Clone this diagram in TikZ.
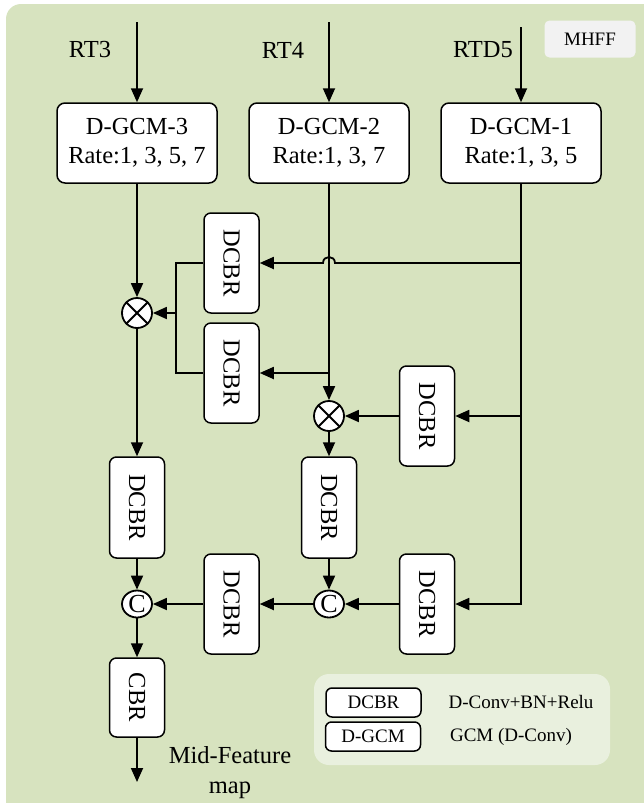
\documentclass[tikz,border=0pt]{standalone}
\usepackage{fontspec}
\setmainfont{Liberation Serif}
\usepackage{graphicx}
\usetikzlibrary{arrows.meta,calc,shapes.geometric}
\definecolor{bggreen}{RGB}{215,227,191}
\definecolor{lggreen}{RGB}{233,240,222}
\definecolor{tagrey}{RGB}{242,242,242}
\tikzset{
  arr/.style={line width=1.8pt,-{Triangle[length=14pt,width=12pt]}},
  ln/.style={line width=1.8pt},
  gcmbox/.style={draw,line width=1.5pt,fill=white,rounded corners=8pt,minimum width=160pt,minimum height=80pt,align=center,font=\fontsize{24.5}{29}\selectfont,inner sep=0pt},
  dbox/.style={draw,line width=1.5pt,fill=white,rounded corners=7pt,minimum width=55pt,inner sep=0pt,font=\fontsize{24.5}{29}\selectfont},
  opnode/.style={draw,line width=1.8pt,fill=white,circle,minimum size=30pt,inner sep=0pt},
  catnode/.style={draw,line width=1.8pt,fill=white,ellipse,minimum width=30pt,minimum height=27pt,inner sep=0pt,font=\fontsize{26}{29}\selectfont},
  lbl/.style={font=\fontsize{24.5}{30}\selectfont,align=center,inner sep=0pt},
  lgbox/.style={draw,line width=1.5pt,fill=white,rounded corners=6pt,minimum width=95pt,minimum height=29pt,inner sep=0pt,font=\fontsize{19}{23}\selectfont},
  lgtext/.style={font=\fontsize{19}{23}\selectfont,inner sep=0pt}
}
\begin{document}
\begin{tikzpicture}[x=1pt,y=-1pt]
\useasboundingbox (0,0) rectangle (644,803);
\begin{scope}
\clip (0,0) rectangle (644,803);
\fill[bggreen,rounded corners=15pt] (6,4) rectangle (670,840);
\end{scope}
% legend background
\fill[lggreen,rounded corners=15pt] (314,674) rectangle (610,765);
% MHFF tag
\node[fill=tagrey,rounded corners=5pt,minimum width=91pt,minimum height=37pt,inner sep=0pt,font=\fontsize{19}{23}\selectfont] (tag) at (590,39) {MHFF};

% D-GCM boxes
\node[gcmbox] (g3) at (137,143) {D-GCM-3\\Rate:1, 3, 5, 7};
\node[gcmbox] (g2) at (329,143) {D-GCM-2\\Rate:1, 3, 7};
\node[gcmbox] (g1) at (521,143) {D-GCM-1\\Rate:1, 3, 5};

% inputs
\coordinate (in3) at (137,22);
\coordinate (in4) at (329,22);
\coordinate (in5) at (521,27);
\node[lbl] (t3) at (90,50) {RT3};
\node[lbl] (t4) at (283,50) {RT4};
\node[lbl] (t5) at (483,50) {RTD5};
\draw[arr] (in3) -- (g3.north);
\draw[arr] (in4) -- (g2.north);
\draw[arr] (in5) -- (g1.north);

% DCBR boxes
\node[dbox,minimum height=100pt] (dA) at (231.5,263) {\rotatebox{-90}{DCBR}};
\node[dbox,minimum height=100pt] (dB) at (231.5,373) {\rotatebox{-90}{DCBR}};
\node[dbox,minimum height=100pt] (dC) at (427,416) {\rotatebox{-90}{DCBR}};
\node[dbox,minimum height=101pt] (dD) at (137,507.5) {\rotatebox{-90}{DCBR}};
\node[dbox,minimum height=101pt] (dE) at (329,507.5) {\rotatebox{-90}{DCBR}};
\node[dbox,minimum height=100pt] (dF) at (231.5,604) {\rotatebox{-90}{DCBR}};
\node[dbox,minimum height=100pt] (dG) at (427,604) {\rotatebox{-90}{DCBR}};
\node[dbox,minimum height=79pt] (cbr) at (137,697.5) {\rotatebox{-90}{CBR}};

% operators
\node[opnode] (m1) at (137,313) {};
\draw[line width=1.8pt] (m1.45) -- (m1.225) (m1.135) -- (m1.315);
\node[opnode] (m2) at (329,416) {};
\draw[line width=1.8pt] (m2.45) -- (m2.225) (m2.135) -- (m2.315);
\node[catnode] (c1) at (137,604) {C};
\node[catnode] (c2) at (329,604) {C};

% connectors
\draw[arr] (g3.south) -- (m1.north);
\draw[arr] (g2.south) -- (m2.north);
\draw[arr] (g1.south) |- (dG.east);
\coordinate (j) at (g2.south |- dA.east);
\draw[arr] (g1.south |- dA.east) -- ($(j)+(6,0)$) .. controls ($(j)+(6,-8)$) and ($(j)+(-6,-8)$) .. ($(j)+(-6,0)$) -- (dA.east);
\coordinate (br) at ($(m1.east)+(23,0)$);
\draw[ln] (dA.west) -| (br) |- (dB.west);
\draw[arr] (br) -- (m1.east);
\draw[arr] (g2.south |- dB.east) -- (dB.east);
\draw[arr] (g1.south |- dC.east) -- (dC.east);
\draw[arr] (dC.west) -- (m2.east);
\draw[arr] (m1.south) -- (dD.north);
\draw[arr] (m2.south) -- (dE.north);
\draw[arr] (dD.south) -- (c1.north);
\draw[arr] (dE.south) -- (c2.north);
\draw[arr] (dG.west) -- (c2.east);
\draw[arr] (c2.west) -- (dF.east);
\draw[arr] (dF.west) -- (c1.east);
\draw[arr] (c1.south) -- (cbr.north);
\coordinate (out) at (137,782);
\draw[arr] (cbr.south) -- (out);
\node[lbl] (mf) at (230,773) {Mid-Feature\\map};

% legend
\node[lgbox] (lgA) at (373.5,702.5) {DCBR};
\node[lgbox] (lgB) at (373,736.5) {D-GCM};
\node[lgtext] (lgAt) at (521,702) {D-Conv+BN+Relu};
\node[lgtext] (lgBt) at (511,737) {GCM (D-Conv)};
\end{tikzpicture}
\end{document}
